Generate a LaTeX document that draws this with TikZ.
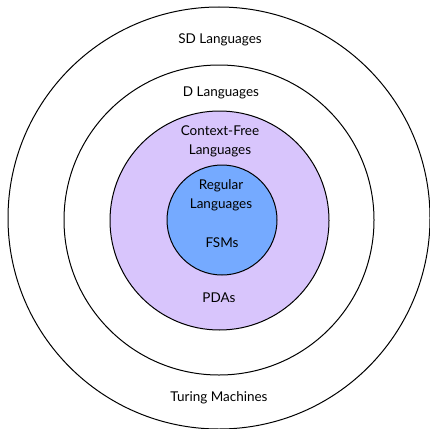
\documentclass[tikz,border=0pt]{standalone}
\usepackage{fontspec}
\setmainfont{Lato}
\usetikzlibrary{positioning}
\definecolor{cflilac}{RGB}{216,197,252}
\definecolor{regblue}{RGB}{117,170,255}

\begin{document}
\begin{tikzpicture}[x=1pt,y=-1pt,line width=1pt,
  lbl/.style={font=\fontsize{13.5}{19}\selectfont,align=center,inner sep=0pt}]
\useasboundingbox (0,0) rectangle (430,428);
% rings, outside in
\draw (219,218) circle (211);
\draw (219,220) circle (155);
\draw[fill=cflilac] (219.5,220.5) circle (109.5);
\draw[fill=regblue] (222,220) circle (55);
% labels
\node[lbl] (sd)  at (220,39.5)  {SD Languages};
\node[lbl] (d)   at (221,92.5)  {D Languages};
\node[lbl] (cf)  at (220,141)   {Context-Free\\Languages};
\node[lbl] (reg) at (221,195)   {Regular\\Languages};
\node[lbl] (fsm) at (222,243)   {FSMs};
\node[lbl] (pda) at (219,298)   {PDAs};
\node[lbl] (tm)  at (219,398)   {Turing Machines};
\end{tikzpicture}
\end{document}
